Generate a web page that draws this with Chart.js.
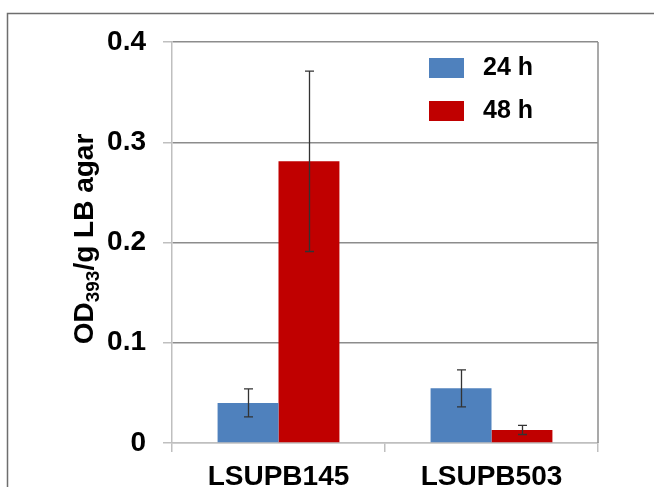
<!DOCTYPE html>
<html>
<head>
<meta charset="utf-8">
<script src="https://cdn.jsdelivr.net/npm/chart.js@4"></script>
<style>
  body { margin: 0; background: #fff; }
  canvas { display: block; }
</style>
</head>
<body>
<canvas id="myChart" width="654" height="487"></canvas>
<script>
// Chart data
const strains = ['LSUPB145', 'LSUPB503'];
const seriesNames = ['24 h', '48 h'];
const values24h = [0.040, 0.0545];
const values48h = [0.281, 0.013];
const errors24h = [0.014, 0.0185];
const errors48h = [0.090, 0.0045];
const yTicks = [0, 0.1, 0.2, 0.3, 0.4];

const FONT = '"Liberation Sans", Arial, sans-serif';
const lightGray = '#bfbfbf';
const darkGray = '#8c8c8c';

// outer frame, right plot border, y title, legend and error bars
const decorations = {
  id: 'decorations',
  beforeDraw(chart) {
    const ctx = chart.ctx;
    ctx.save();
    ctx.fillStyle = '#fff';
    ctx.fillRect(0, 0, chart.width, chart.height);
    ctx.strokeStyle = '#6e6e6e';
    ctx.lineWidth = 1.5;
    ctx.beginPath();
    ctx.moveTo(7.5, chart.height);
    ctx.lineTo(7.5, 13.5);
    ctx.lineTo(chart.width, 13.5);
    ctx.stroke();
    ctx.restore();
  },
  afterDraw(chart) {
    const ctx = chart.ctx;
    const area = chart.chartArea;
    const yScale = chart.scales.y;

    // right border of plot
    ctx.save();
    ctx.strokeStyle = darkGray;
    ctx.lineWidth = 1.5;
    ctx.beginPath();
    ctx.moveTo(area.right, area.top);
    ctx.lineTo(area.right, area.bottom);
    ctx.stroke();

    // error bars
    const errs = [errors24h, errors48h];
    ctx.strokeStyle = '#333';
    ctx.lineWidth = 1.3;
    chart.data.datasets.forEach((ds, i) => {
      const meta = chart.getDatasetMeta(i);
      meta.data.forEach((bar, j) => {
        const v = ds.data[j];
        const e = errs[i][j];
        const yTop = yScale.getPixelForValue(v + e);
        const yBot = yScale.getPixelForValue(v - e);
        const x = Math.round(bar.x) + 0.5;
        ctx.beginPath();
        ctx.moveTo(x, yTop);
        ctx.lineTo(x, yBot);
        ctx.moveTo(x - 4.5, yTop);
        ctx.lineTo(x + 4.5, yTop);
        ctx.moveTo(x - 4.5, yBot);
        ctx.lineTo(x + 4.5, yBot);
        ctx.stroke();
      });
    });

    // y axis title with subscript
    ctx.fillStyle = '#000';
    ctx.textBaseline = 'alphabetic';
    ctx.textAlign = 'left';
    const big = 'bold 28px ' + FONT;
    const small = 'bold 19px ' + FONT;
    const parts = [['OD', big, 0], ['393', small, 6], ['/g LB agar', big, 0]];
    let total = 0;
    parts.forEach(p => { ctx.font = p[1]; total += ctx.measureText(p[0]).width; });
    ctx.translate(93, 239);
    ctx.rotate(-Math.PI / 2);
    let u = -total / 2;
    parts.forEach(p => {
      ctx.font = p[1];
      ctx.fillText(p[0], u, p[2]);
      u += ctx.measureText(p[0]).width;
    });
    ctx.restore();

    // legend
    ctx.save();
    ctx.font = 'bold 25px ' + FONT;
    ctx.textBaseline = 'middle';
    ctx.textAlign = 'left';
    chart.data.datasets.forEach((ds, i) => {
      const top = 58 + i * 43;
      ctx.fillStyle = ds.backgroundColor;
      ctx.fillRect(429, top, 35, 20);
      ctx.fillStyle = '#000';
      ctx.fillText(ds.label, 483, top + 10);
    });
    ctx.restore();
  }
};

const config = {
  type: 'bar',
  data: {
    labels: strains,
    datasets: [
      {
        label: seriesNames[0],
        data: values24h,
        backgroundColor: '#4F81BD',
        barPercentage: 1,
        categoryPercentage: 0.572,
      },
      {
        label: seriesNames[1],
        data: values48h,
        backgroundColor: '#C00000',
        barPercentage: 1,
        categoryPercentage: 0.572,
      },
    ],
  },
  options: {
    responsive: false,
    animation: false,
    layout: { padding: { top: 42, right: 56, left: 0, bottom: 0 } },
    plugins: {
      legend: { display: false },
      title: { display: false },
      tooltip: { enabled: false },
    },
    scales: {
      x: {
        afterFit(scale) { scale.height = 44; },
        grid: {
          drawOnChartArea: false,
          drawTicks: true,
          tickLength: 9,
          tickColor: lightGray,
          lineWidth: 1.5,
        },
        border: { display: true, color: lightGray, width: 1.5 },
        ticks: {
          color: '#000',
          padding: 8,
          font: { family: FONT, size: 28, weight: 'bold' },
        },
      },
      y: {
        min: 0,
        max: 0.4,
        afterFit(scale) { scale.width = 172; },
        afterBuildTicks(scale) {
          scale.ticks = yTicks.map(v => ({ value: v }));
        },
        grid: {
          color: ctx => (ctx.tick && ctx.tick.value === 0 ? lightGray : darkGray),
          lineWidth: 1.5,
          tickLength: 9,
          tickColor: lightGray,
        },
        border: { display: true, color: lightGray, width: 1.5 },
        ticks: {
          color: '#000',
          padding: 17,
          font: { family: FONT, size: 28, weight: 'bold' },
          callback: v => (v === 0 ? '0' : v.toFixed(1)),
        },
      },
    },
  },
  plugins: [decorations],
};

const myChart = new Chart(document.getElementById('myChart'), config);
</script>
</body>
</html>
